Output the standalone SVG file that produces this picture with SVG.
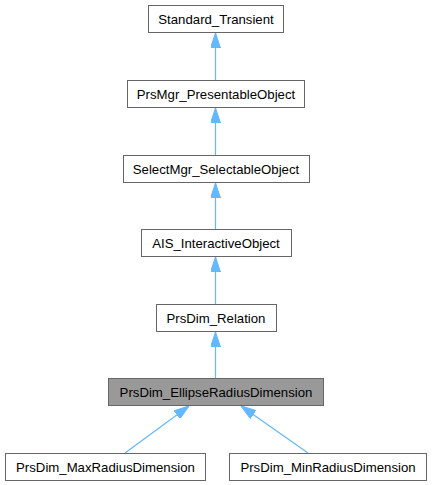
<svg xmlns="http://www.w3.org/2000/svg" width="432" height="485" viewBox="0 0 432 485">
<style>
.box{fill:#ffffff;stroke:#666666;stroke-width:1}
.cur{fill:#999999;stroke:#666666;stroke-width:1}
text{font-family:"Liberation Sans",Arial,sans-serif;font-size:13.2px;fill:#000000;text-anchor:middle}
.edge{stroke:#63b8ff;stroke-width:1.2;fill:none;marker-end:url(#arr)}
</style>
<defs>
<marker id="arr" viewBox="0 0 15 10" refX="15" refY="5" markerWidth="15" markerHeight="10" markerUnits="userSpaceOnUse" orient="auto">
<path d="M0,0 L15,5 L0,10 z" fill="#63b8ff" stroke="#63b8ff" stroke-width="1"/>
</marker>
</defs>
<rect width="432" height="485" fill="#ffffff"/>
<g id="connectors">
<line class="edge" x1="215.5" y1="80" x2="215.5" y2="33"/>
<line class="edge" x1="215.5" y1="155" x2="215.5" y2="108"/>
<line class="edge" x1="215.5" y1="229" x2="215.5" y2="183"/>
<line class="edge" x1="215.5" y1="304" x2="215.5" y2="257"/>
<line class="edge" x1="215.5" y1="378" x2="215.5" y2="332"/>
<line class="edge" x1="125" y1="453" x2="189" y2="406"/>
<line class="edge" x1="308" y1="453" x2="241" y2="406"/>
</g>
<g id="Standard_Transient">
<rect class="box" x="148.5" y="5.5" width="135" height="27"/>
<text x="216" y="23.5">Standard_Transient</text>
</g>
<g id="PrsMgr_PresentableObject">
<rect class="box" x="127.5" y="80.5" width="177" height="27"/>
<text x="216" y="98.5">PrsMgr_PresentableObject</text>
</g>
<g id="SelectMgr_SelectableObject">
<rect class="box" x="123.5" y="155.5" width="186" height="27"/>
<text x="216" y="173.5">SelectMgr_SelectableObject</text>
</g>
<g id="AIS_InteractiveObject">
<rect class="box" x="141.5" y="229.5" width="150" height="27"/>
<text x="216" y="247.5">AIS_InteractiveObject</text>
</g>
<g id="PrsDim_Relation">
<rect class="box" x="156.5" y="304.5" width="120" height="27"/>
<text x="216" y="322.5">PrsDim_Relation</text>
</g>
<g id="PrsDim_EllipseRadiusDimension">
<rect class="cur" x="108.5" y="378.5" width="215" height="27"/>
<text x="216" y="396.5">PrsDim_EllipseRadiusDimension</text>
</g>
<g id="PrsDim_MaxRadiusDimension">
<rect class="box" x="5.5" y="453.5" width="200" height="27"/>
<text x="105.5" y="471.5">PrsDim_MaxRadiusDimension</text>
</g>
<g id="PrsDim_MinRadiusDimension">
<rect class="box" x="229.5" y="453.5" width="197" height="27"/>
<text x="328" y="471.5">PrsDim_MinRadiusDimension</text>
</g>
</svg>
